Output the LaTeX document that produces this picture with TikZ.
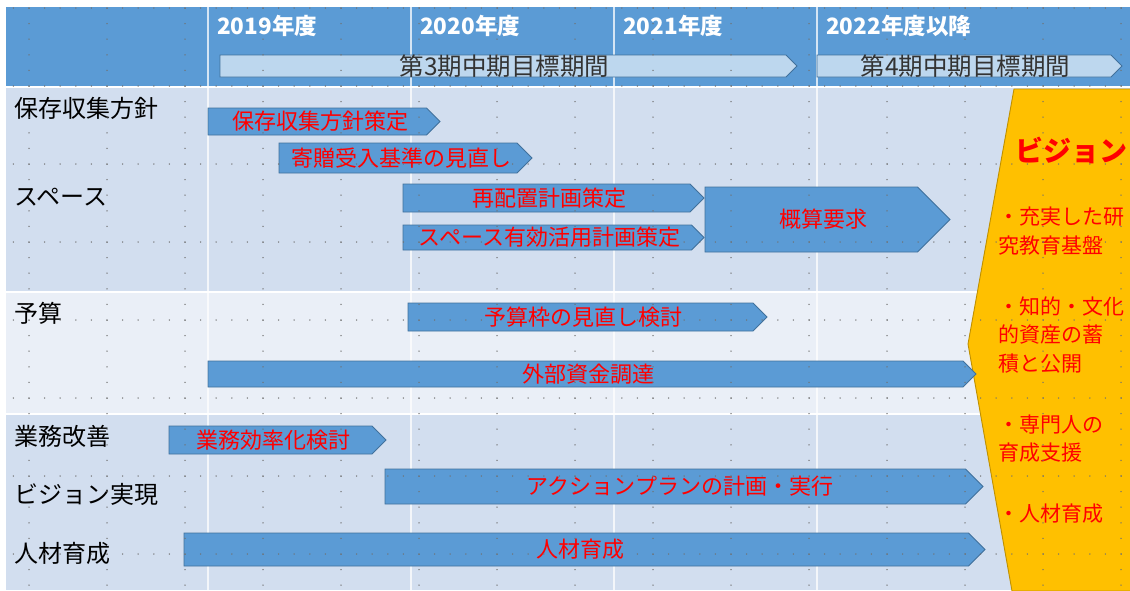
\documentclass[tikz,border=0pt]{standalone}
\usepackage{fontspec}
\setmainfont{Noto Sans CJK JP}
\definecolor{hdr}{HTML}{5B9BD5}
\definecolor{rowA}{HTML}{D2DEEF}
\definecolor{rowB}{HTML}{EAEFF7}
\definecolor{arrfill}{HTML}{5B9BD5}
\definecolor{arrline}{HTML}{41719C}
\definecolor{perfill}{HTML}{BDD7EE}
\definecolor{perline}{HTML}{41719C}
\definecolor{vis}{HTML}{FFC000}
\definecolor{visline}{HTML}{BF9000}
\definecolor{txtred}{HTML}{FF0000}
\definecolor{dotc}{HTML}{707070}
\tikzset{
  task/.style={fill=arrfill, draw=arrline, line width=0.9pt, line join=miter},
  task text/.style={text=txtred, inner sep=0pt, font=\fontsize{22}{22}\selectfont},
  period/.style={fill=perfill, draw=perline, line width=0.9pt},
  period text/.style={text=black!80, inner sep=0pt, font=\fontsize{24.5}{24.5}\selectfont},
  yeartext/.style={text=white, inner sep=0pt, anchor=west, font=\fontsize{22.5}{22.5}\selectfont\bfseries},
  rowlabel/.style={text=black, inner sep=0pt, anchor=west, font=\fontsize{24}{24}\selectfont},
  vistext/.style={text=txtred, inner sep=0pt, anchor=west, align=left, font=\fontsize{21}{28.5}\selectfont},
  sep/.style={draw=white, line width=2pt},
  gdot/.style={fill=dotc},
}
% #1 style, #2 name, #3 x1, #4 x2 (tip), #5 y1, #6 y2, #7 text
\newcommand\homeplate[7]{%
  \draw[#1] (#3,#5) -- ({#4-(#6-#5)/2},#5) -- (#4,{(#5+#6)/2}) -- ({#4-(#6-#5)/2},#6) -- (#3,#6) -- cycle;
  \node[#1 text] (#2) at ({(#3+#4)/2-4},{(#5+#6)/2}) {#7};}
\begin{document}
\begin{tikzpicture}[x=1pt,y=-1pt]
\useasboundingbox (0,0) rectangle (1130,590);
\fill[white] (0,0) rectangle (1130,590);
% table
\fill[hdr] (6,7) rectangle (1130,86);
\fill[rowA] (6,88) rectangle (1130,292);
\fill[rowB] (6,292) rectangle (1130,414);
\fill[rowA] (6,414) rectangle (1130,590);
\draw[sep] (6,87) -- (1130,87);
\draw[sep] (6,292) -- (1130,292);
\draw[sep] (6,414) -- (1130,414);
\foreach \x in {208,411,614,817} \draw[draw=white, opacity=0.75, line width=1.6pt] (\x,7) -- (\x,590);
% header
\node[yeartext] (y19) at (217,26) {2019年度};
\node[yeartext] (y20) at (420,26) {2020年度};
\node[yeartext] (y21) at (623,26) {2021年度};
\node[yeartext] (y22) at (826,26) {2022年度以降};
\homeplate{period}{p3}{220}{797}{55}{77}{第3期中期目標期間}
\homeplate{period}{p4}{817}{1122}{55}{77}{第4期中期目標期間}
% row labels
\node[rowlabel] (l1) at (14,108) {保存収集方針};
\node[rowlabel] (l2) at (14,197) {スペース};
\node[rowlabel] (l3) at (14,313) {予算};
\node[rowlabel] (l4) at (14,436) {業務改善};
\node[rowlabel] (l5) at (14,494) {ビジョン実現};
\node[rowlabel] (l6) at (14,553) {人材育成};
% task arrows
\homeplate{task}{a1}{208}{440}{108}{135}{保存収集方針策定}
\homeplate{task}{a2}{279}{532}{143}{173}{寄贈受入基準の見直し}
\homeplate{task}{a3}{403}{704}{184}{212}{再配置計画策定}
\homeplate{task}{a4}{403}{704}{225}{250}{スペース有効活用計画策定}
\homeplate{task}{a5}{705}{950}{187}{252}{概算要求}
\homeplate{task}{a6}{408}{767}{303}{331}{予算枠の見直し検討}
\homeplate{task}{a8}{169}{386}{426}{454}{業務効率化検討}
\homeplate{task}{a9}{385}{983}{469}{504}{アクションプランの計画・実行}
\homeplate{task}{a10}{184}{985}{533}{566}{人材育成}
% vision
\draw[fill=vis, draw=visline, line width=0.9pt] (1014,89) -- (1131,89) -- (1131,591) -- (1012,591) -- (968,344) -- cycle;
\homeplate{task}{a7}{208}{976}{361}{387}{外部資金調達}
\node[text=txtred, inner sep=0pt, font=\fontsize{28}{28}\selectfont\bfseries] (vt) at (1071,150) {ビジョン};
\node[vistext] (v1) at (998,231) {・充実した研\\究教育基盤};
\node[vistext] (v2) at (998,335) {・知的・文化\\的資産の蓄\\積と公開};
\node[vistext] (v3) at (998,438.5) {・専門人の\\育成支援};
\node[vistext] (v4) at (998,514) {・人材育成};
% grid dots
\foreach \k in {0,...,14} {
  \foreach \j in {0,...,37} {
    \fill[gdot] ({29+78*\k},{8+15.6*\j}) circle (0.75pt);
  }
}
\foreach \k in {0,...,7} {
  \foreach \m in {0,...,71} {
    \fill[gdot] ({13.4+15.6*\m},{8+78*\k}) circle (0.75pt);
  }
}
\end{tikzpicture}
\end{document}
